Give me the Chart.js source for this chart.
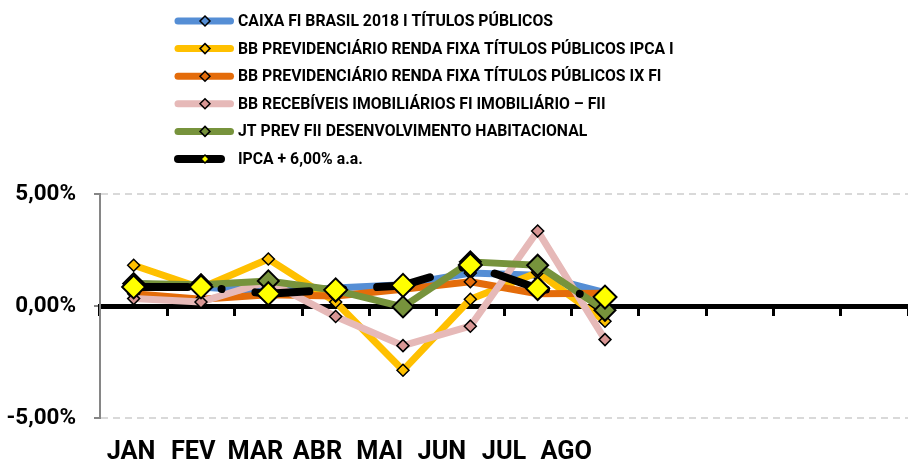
<!DOCTYPE html>
<html><head><meta charset="utf-8">
<script src="https://cdn.jsdelivr.net/npm/chart.js@4/dist/chart.umd.min.js"></script>
<style>html,body{margin:0;padding:0;background:#fff;}</style>
</head><body>
<canvas id="c" width="908" height="462"></canvas>
<script>
// ---- data ----
const months = ['JAN','FEV','MAR','ABR','MAI','JUN','JUL','AGO','SET','OUT','NOV','DEZ'];
const axisLabels = ['JAN','FEV','MAR','ABR','MAI','JUN','JUL','AGO','','','','',''];
const seriesNames = [
  'CAIXA FI BRASIL 2018 I TÍTULOS PÚBLICOS',
  'BB PREVIDENCIÁRIO RENDA FIXA TÍTULOS PÚBLICOS IPCA I',
  'BB PREVIDENCIÁRIO RENDA FIXA TÍTULOS PÚBLICOS IX FI',
  'BB RECEBÍVEIS IMOBILIÁRIOS FI IMOBILIÁRIO – FII',
  'JT PREV FII DESENVOLVIMENTO HABITACIONAL',
  'IPCA + 6,00% a.a.'
];
const caixa     = [1.00, 0.85, 0.65, 0.80, 0.95, 1.47, 1.37, 0.60, null, null, null, null];
const bbIpca    = [1.82, 0.80, 2.10, 0.18, -2.87, 0.30, 1.50, -0.68, null, null, null, null];
const bbIx      = [0.55, 0.30, 0.50, 0.45, 0.75, 1.08, 0.55, 0.57, null, null, null, null];
const bbReceb   = [0.33, 0.18, 1.10, -0.47, -1.77, -0.90, 3.35, -1.50, null, null, null, null];
const jtPrev    = [1.00, 0.95, 1.12, 0.70, -0.04, 1.97, 1.82, -0.19, null, null, null, null];
const ipcaMeta  = [0.85, 0.85, 0.55, 0.72, 0.92, 1.83, 0.78, 0.40, null, null, null, null];
const yMin = -5, yMax = 5, yStep = 5;

// ---- fonts ----
const FAMILY = 'Roboto, Lato, sans-serif';
function fitSize(text, target){
  const c = document.createElement('canvas').getContext('2d');
  c.font = 'bold 100px ' + FAMILY;
  return 100 * target / c.measureText(text).width;
}
const legendSize = fitSize(seriesNames[0], 303) * 1.04;
const yTickSize = fitSize('5,00%', 59) * 1.03;
const xTickSize = fitSize('AGO', 50) * 1.03;

function ds(label, data, line, marker, radius, order, extra){
  return Object.assign({
    label, data, borderColor: line, backgroundColor: line,
    borderWidth: 7, tension: 0, spanGaps: false,
    pointStyle: 'rectRot', pointRadius: radius, pointHoverRadius: radius,
    pointBackgroundColor: marker, pointBorderColor: '#000', pointBorderWidth: radius > 8 ? 2 : 1.5,
    borderJoinStyle: 'round', borderCapStyle: 'round',
    xAxisID: 'x', yAxisID: 'y', order
  }, extra || {});
}

const datasets = [
  ds(seriesNames[0], caixa,   '#558ED5', '#558ED5', 6, 6),
  ds(seriesNames[1], bbIpca,  '#FFC000', '#FFC000', 6, 5),
  ds(seriesNames[2], bbIx,    '#E46C0A', '#E46C0A', 6, 4),
  ds(seriesNames[3], bbReceb, '#E6B9B8', '#D99694', 6, 3),
  ds(seriesNames[4], jtPrev,  '#77933C', '#77933C', 10.5, 2),
  ds(seriesNames[5], ipcaMeta,'#000000', '#FFFF00', 11.5, 1, {borderWidth: 8, borderDash: [54, 34, 0.01, 34]})
];

const legendPlugin = {
  id: 'customLegend',
  afterDraw(chart){
    const ctx = chart.ctx;
    ctx.save();
    chart.data.datasets.forEach((d, i) => {
      const y = 21 + i * 27.6;
      const isLast = i === 5;
      ctx.lineCap = 'round';
      ctx.setLineDash([]);
      ctx.strokeStyle = d.borderColor;
      ctx.lineWidth = isLast ? 8 : 7;
      ctx.beginPath();
      ctx.moveTo(178, y);
      ctx.lineTo(isLast ? 221 : 230.5, y);
      ctx.stroke();
      const r = isLast ? 4 : 5;
      const cx = 205;
      ctx.beginPath();
      ctx.moveTo(cx, y - r); ctx.lineTo(cx + r, y); ctx.lineTo(cx, y + r); ctx.lineTo(cx - r, y); ctx.closePath();
      ctx.fillStyle = d.pointBackgroundColor;
      ctx.fill();
      ctx.lineWidth = 1.5;
      ctx.strokeStyle = '#000';
      ctx.stroke();
      ctx.fillStyle = '#000';
      ctx.font = 'bold ' + legendSize + 'px ' + FAMILY;
      ctx.textBaseline = 'middle';
      ctx.textAlign = 'left';
      ctx.fillText(d.label, 238, y + 1);
    });
    ctx.restore();
  }
};

function noPad(s){ s.paddingLeft = 0; s.paddingRight = 0; s.paddingTop = 0; s.paddingBottom = 0; }

new Chart(document.getElementById('c'), {
  type: 'line',
  data: { labels: months, datasets },
  options: {
    responsive: false, animation: false, devicePixelRatio: 1,
    layout: { autoPadding: false, padding: { top: 194, left: 0, right: 0, bottom: 0 } },
    plugins: { legend: { display: false }, tooltip: { enabled: false } },
    scales: {
      x: {
        type: 'category', labels: months, offset: true, position: { y: 0 },
        grid: { display: true, drawOnChartArea: false, offset: true, drawTicks: true,
                tickLength: 7, tickWidth: 3, tickColor: '#000', color: '#000' },
        border: { display: true, color: '#000', width: 5 },
        ticks: { display: false },
        afterFit: noPad
      },
      xl: {
        type: 'category', labels: axisLabels, offset: true, position: 'bottom', axis: 'x',
        grid: { display: false, drawTicks: false },
        border: { display: false },
        ticks: { color: '#000', autoSkip: false, maxRotation: 0, padding: 19,
                 font: { family: FAMILY, weight: 'bold', size: xTickSize } },
        afterFit(s){ noPad(s); s.height = 44; }
      },
      y: {
        min: yMin, max: yMax, position: 'left',
        ticks: { stepSize: yStep, color: '#000', padding: 18,
                 font: { family: FAMILY, weight: 'bold', size: yTickSize },
                 callback: v => v.toFixed(2).replace('.', ',') + '%' },
        grid: { color: c => (c.tick && c.tick.value === 0) ? 'rgba(0,0,0,0)' : '#D9D9D9',
                lineWidth: 2, tickColor: '#868686', tickLength: 6, tickWidth: 2, tickBorderDash: [] },
        border: { display: true, color: '#868686', width: 2, dash: [7, 5] },
        afterFit(s){ s.width = 100; }
      }
    }
  },
  plugins: [legendPlugin]
});
</script>
</body></html>
